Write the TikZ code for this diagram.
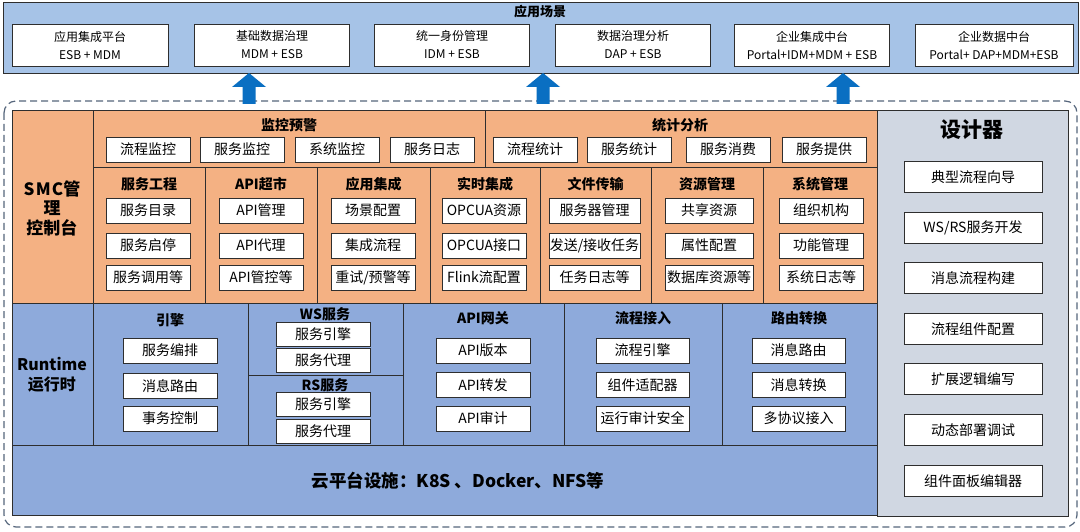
\documentclass[tikz,border=0pt]{standalone}
\usepackage{fontspec}
\setmainfont{Noto Sans CJK SC}
\definecolor{linec}{HTML}{2E2E2E}
\definecolor{topfill}{HTML}{A6C3E7}
\definecolor{orangef}{HTML}{F4B183}
\definecolor{bluef}{HTML}{8EAADB}
\definecolor{grayf}{HTML}{D0D7E2}
\definecolor{arrowc}{HTML}{0A6FC2}
\definecolor{dashc}{HTML}{56667C}
\begin{document}
\begin{tikzpicture}[x=1pt,y=-1pt,
  region/.style={draw=linec,line width=0.9pt},
  wbox/.style={draw=linec,fill=white,line width=0.8pt,inner sep=0pt,minimum height=25pt,font=\fontsize{14}{16}\selectfont},
  tbox/.style={draw=linec,fill=white,line width=0.8pt,inner sep=0pt,minimum height=42pt,minimum width=155pt,align=center,font=\fontsize{12}{18}\selectfont},
  dbox/.style={draw=linec,fill=white,line width=0.8pt,inner sep=0pt,minimum height=31pt,minimum width=138pt,font=\fontsize{14}{16}\selectfont},
  ttl/.style={inner sep=0pt,font=\bfseries\fontsize{14}{16}\selectfont},
  bigarrow/.style={fill=arrowc,draw=none}]
\useasboundingbox (0,0) rectangle (1080,532);
\fill[white] (0,0) rectangle (1080,532);
% ---------- top bar ----------
\draw[region,fill=topfill] (3,2) rectangle (1078,73);
\node[inner sep=0pt,font=\bfseries\fontsize{13}{14}\selectfont] (scene) at (540,12) {应用场景};
\node[tbox,minimum width=156pt] (s1) at (90,45) {应用集成平台\\ESB + MDM};
\node[tbox] (s2) at (272,45) {基础数据治理\\MDM + ESB};
\node[tbox] (s3) at (452,45) {统一身份管理\\IDM + ESB};
\node[tbox] (s4) at (633,45) {数据治理分析\\DAP + ESB};
\node[tbox] (s5) at (812,45) {企业集成中台\\Portal+IDM+MDM + ESB};
\node[tbox,minimum width=158pt] (s6) at (994,45) {企业数据中台\\Portal+ DAP+MDM+ESB};
% ---------- dashed frame ----------
\draw[dashc,line width=1.2pt,dash pattern=on 7pt off 4pt,rounded corners=12pt] (4,101) rectangle (1077,527);
% ---------- arrows ----------
\foreach \cx in {249,543,843}{
  \fill[bigarrow] (\cx-6.5,104) -- (\cx-6.5,87) -- (\cx-17,87) -- (\cx,73) -- (\cx+17,87) -- (\cx+6.5,87) -- (\cx+6.5,104) -- cycle;
}
% ---------- SMC ----------
\draw[region,fill=orangef] (12,110) rectangle (93,303);
\node[inner sep=0pt,align=center,font=\bfseries\fontsize{17}{19.5}\selectfont] (smc) at (52,208) {S\kern1.2pt M\kern1.2pt C管\\理\\控制台};
\draw[region,fill=orangef] (93,110) rectangle (485,167);
\draw[region,fill=orangef] (485,110) rectangle (877,167);
\node[ttl] (jk) at (289,125) {监控预警};
\node[wbox,minimum width=84pt] (jk1) at (148,149.5) {流程监控};
\node[wbox,minimum width=84pt] (jk2) at (242,149.5) {服务监控};
\node[wbox,minimum width=84pt] (jk3) at (337,149.5) {系统监控};
\node[wbox,minimum width=84pt] (jk4) at (432,149.5) {服务日志};
\node[ttl] (tj) at (680,125) {统计分析};
\node[wbox,minimum width=84pt] (tj1) at (535,149.5) {流程统计};
\node[wbox,minimum width=84pt] (tj2) at (629,149.5) {服务统计};
\node[wbox,minimum width=84pt] (tj3) at (728,149.5) {服务消费};
\node[wbox,minimum width=84pt] (tj4) at (824,149.5) {服务提供};
% row 2 columns
\foreach \xa/\xb in {93/205,205/317,317/430,430/540,540/651,651/763,763/877}{
  \draw[region,fill=orangef] (\xa,167) rectangle (\xb,303);
}
\node[ttl] (c1) at (149,184) {服务工程};
\node[wbox,minimum width=84pt] (c1a) at (148,210.5) {服务目录};
\node[wbox,minimum width=84pt] (c1b) at (148,245.5) {服务启停};
\node[wbox,minimum width=84pt] (c1c) at (148,277.5) {服务调用等};
\node[ttl] (c2) at (261,184) {API超市};
\node[wbox,minimum width=84pt] (c2a) at (261,210.5) {API管理};
\node[wbox,minimum width=84pt] (c2b) at (261,245.5) {API代理};
\node[wbox,minimum width=84pt] (c2c) at (261,277.5) {API管控等};
\node[ttl] (c3) at (373.5,184) {应用集成};
\node[wbox,minimum width=84pt] (c3a) at (373,210.5) {场景配置};
\node[wbox,minimum width=84pt] (c3b) at (373,245.5) {集成流程};
\node[wbox,minimum width=84pt] (c3c) at (373,277.5) {重试/预警等};
\node[ttl] (c4) at (485,184) {实时集成};
\node[wbox,minimum width=84pt] (c4a) at (484,210.5) {OPCUA资源};
\node[wbox,minimum width=84pt] (c4b) at (484,245.5) {OPCUA接口};
\node[wbox,minimum width=84pt] (c4c) at (484,277.5) {Flink流配置};
\node[ttl] (c5) at (595.5,184) {文件传输};
\node[wbox,minimum width=91pt] (c5a) at (594.5,210.5) {服务器管理};
\node[wbox,minimum width=91pt] (c5b) at (594.5,245.5) {发送/接收任务};
\node[wbox,minimum width=91pt] (c5c) at (594.5,277.5) {任务日志等};
\node[ttl] (c6) at (707,184) {资源管理};
\node[wbox,minimum width=88pt] (c6a) at (709,210.5) {共享资源};
\node[wbox,minimum width=88pt] (c6b) at (709,245.5) {属性配置};
\node[wbox,minimum width=88pt] (c6c) at (709,277.5) {数据库资源等};
\node[ttl] (c7) at (820,184) {系统管理};
\node[wbox,minimum width=84pt] (c7a) at (821,210.5) {组织机构};
\node[wbox,minimum width=84pt] (c7b) at (821,245.5) {功能管理};
\node[wbox,minimum width=84pt] (c7c) at (821,277.5) {系统日志等};
% ---------- Runtime ----------
\draw[region,fill=bluef] (12,303) rectangle (93,445);
\node[inner sep=0pt,align=center,font=\bfseries\fontsize{16}{20}\selectfont] (rt) at (52,375) {Runtime\\运行时};
\draw[region,fill=bluef] (93,303) rectangle (248,445);
\draw[region,fill=bluef] (248,303) rectangle (403,375);
\draw[region,fill=bluef] (248,375) rectangle (403,445);
\draw[region,fill=bluef] (403,303) rectangle (564,445);
\draw[region,fill=bluef] (564,303) rectangle (722,445);
\draw[region,fill=bluef] (722,303) rectangle (877,445);
\node[ttl] (yq) at (170,320) {引擎};
\node[wbox,minimum width=94pt] (yq1) at (170,350.5) {服务编排};
\node[wbox,minimum width=94pt] (yq2) at (170,386) {消息路由};
\node[wbox,minimum width=94pt] (yq3) at (170,418.5) {事务控制};
\node[ttl] (ws) at (325,314) {WS服务};
\node[wbox,minimum width=94pt,minimum height=24pt] (ws1) at (323,334) {服务引擎};
\node[wbox,minimum width=94pt,minimum height=24pt] (ws2) at (323,360) {服务代理};
\node[ttl] (rs) at (325,385) {RS服务};
\node[wbox,minimum width=94pt,minimum height=24pt] (rs1) at (323,404) {服务引擎};
\node[wbox,minimum width=94pt,minimum height=24pt] (rs2) at (323,431) {服务代理};
\node[ttl] (gw) at (483,318) {API网关};
\node[wbox,minimum width=94pt] (gw1) at (483,350.5) {API版本};
\node[wbox,minimum width=94pt] (gw2) at (483,385) {API转发};
\node[wbox,minimum width=94pt] (gw3) at (483,418.5) {API审计};
\node[ttl] (lc) at (643,318) {流程接入};
\node[wbox,minimum width=93pt] (lc1) at (642.5,350.5) {流程引擎};
\node[wbox,minimum width=93pt] (lc2) at (642.5,385) {组件适配器};
\node[wbox,minimum width=93pt] (lc3) at (642.5,418.5) {运行审计安全};
\node[ttl] (ly) at (799,318) {路由转换};
\node[wbox,minimum width=93pt] (ly1) at (798.5,350.5) {消息路由};
\node[wbox,minimum width=93pt] (ly2) at (798.5,385) {消息转换};
\node[wbox,minimum width=93pt] (ly3) at (798.5,418.5) {多协议接入};
% ---------- cloud ----------
\draw[region,fill=bluef] (12,445) rectangle (877,515);
\node[inner sep=0pt,font=\bfseries\fontsize{17.5}{20}\selectfont] (cloud) at (458,481) {云平台设施：K8S 、Docker、NFS等};
% ---------- designer ----------
\draw[region,fill=grayf] (877,110) rectangle (1068,516);
\node[inner sep=0pt,font=\bfseries\fontsize{21}{24}\selectfont] (sj) at (972,130) {设计器};
\node[dbox] (d1) at (973,177) {典型流程向导};
\node[dbox] (d2) at (973,227.5) {WS/RS服务开发};
\node[dbox] (d3) at (973,278) {消息流程构建};
\node[dbox] (d4) at (973,329) {流程组件配置};
\node[dbox] (d5) at (973,379) {扩展逻辑编写};
\node[dbox] (d6) at (973,430) {动态部署调试};
\node[dbox] (d7) at (973,481) {组件面板编辑器};
\end{tikzpicture}
\end{document}
